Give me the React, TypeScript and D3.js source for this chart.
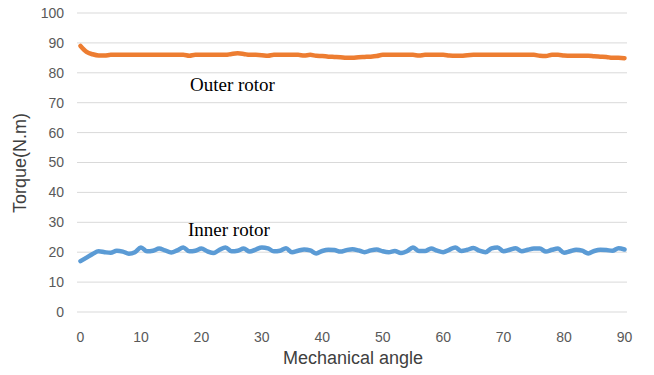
import React from "react";
import * as d3 from "d3";

const angles: number[] = Array.from({ length: 91 }, (_, i) => i);

const outerTorque: number[] = [
  89, 87, 86.2, 85.8, 85.8, 86, 86, 86, 86, 86,
  86, 86, 86, 86, 86, 86, 86, 86, 85.7, 86,
  86, 86, 86, 86, 86, 86.3, 86.5, 86.3, 86, 86,
  85.9, 85.7, 86, 86, 86, 86, 86, 85.8, 86, 85.7,
  85.6, 85.4, 85.3, 85.2, 85, 85, 85.2, 85.3, 85.4, 85.6,
  86, 86, 86, 86, 86, 86, 85.8, 86, 86, 86,
  86, 85.8, 85.7, 85.7, 85.9, 86, 86, 86, 86, 86,
  86, 86, 86, 86, 86, 86, 85.7, 85.6, 86, 86,
  85.8, 85.7, 85.7, 85.7, 85.7, 85.5, 85.4, 85.3, 85.0, 85.0,
  84.9,
];

const innerTorque: number[] = [
  17, 18.2, 19.4, 20.3, 20.0, 19.8, 20.5, 20.2, 19.5, 20.0,
  21.6, 20.3, 20.5, 21.2, 20.6, 19.9, 20.6, 21.6, 20.3, 20.5,
  21.2, 20.3, 19.7, 20.8, 21.6, 20.3, 20.5, 21.2, 20.2, 20.9,
  21.6, 21.3, 20.3, 20.5, 21.3, 20.0, 20.5, 20.9, 20.6, 19.6,
  20.4, 20.8, 20.7, 20.2, 20.7, 21.0, 20.6, 20.0, 20.6, 20.9,
  20.3, 20.0, 20.4, 19.7, 20.3, 21.6, 20.4, 20.4, 21.2, 20.5,
  20.0, 20.8, 21.6, 20.4, 20.8, 21.4, 20.5, 20.0, 21.3, 21.6,
  20.3, 20.8, 21.3, 20.3, 20.8, 21.2, 21.2, 20.2, 20.8, 21.2,
  19.8, 20.3, 20.8, 20.5, 19.6, 20.4, 20.8, 20.7, 20.5, 21.3,
  20.9,
];

const yTicks: number[] = [0, 10, 20, 30, 40, 50, 60, 70, 80, 90, 100];
const xTicks: number[] = [0, 10, 20, 30, 40, 50, 60, 70, 80, 90];

const seriesLabels = { outer: "Outer rotor", inner: "Inner rotor" };

export default function App() {
  const W = 654;
  const H = 375;
  const x = d3.scaleLinear().domain([0, 90]).range([80.5, 624.5]);
  const y = d3.scaleLinear().domain([0, 100]).range([312, 13]);
  const line = (vals: number[]) =>
    d3
      .line<number>()
      .x((_, i) => x(angles[i]))
      .y((v) => y(v))
      .curve(d3.curveMonotoneX)(vals) || "";
  const sans = "'Liberation Sans', Arial, sans-serif";
  const serif = "'Liberation Serif', 'Times New Roman', serif";
  return (
    <svg
      width={W}
      height={H}
      style={{ position: "absolute", left: 0, top: 0, background: "#fff" }}
    >
      {yTicks.map((t) => (
        <g key={t}>
          <line x1={77} x2={627} y1={y(t)} y2={y(t)} stroke="#d9d9d9" strokeWidth={1} />
          <text
            x={64}
            y={y(t)}
            dy="0.35em"
            textAnchor="end"
            fontFamily={sans}
            fontSize={14}
            fill="#595959"
          >
            {t}
          </text>
        </g>
      ))}
      {xTicks.map((t) => (
        <text
          key={t}
          x={x(t)}
          y={337}
          dy="0.35em"
          textAnchor="middle"
          fontFamily={sans}
          fontSize={14}
          fill="#595959"
        >
          {t}
        </text>
      ))}
      <path d={line(outerTorque)} fill="none" stroke="#ED7D31" strokeWidth={4.5} strokeLinejoin="round" strokeLinecap="round" />
      <path d={line(innerTorque)} fill="none" stroke="#5B9BD5" strokeWidth={4.5} strokeLinejoin="round" strokeLinecap="round" />
      <text x={190} y={91} fontFamily={serif} fontSize={19} fill="#000">
        {seriesLabels.outer}
      </text>
      <text x={188} y={236} fontFamily={serif} fontSize={19} fill="#000">
        {seriesLabels.inner}
      </text>
      <text
        x={353}
        y={358}
        dy="0.35em"
        textAnchor="middle"
        fontFamily={sans}
        fontSize={18}
        fill="#404040"
      >
        Mechanical angle
      </text>
      <text
        transform={`translate(20,${163}) rotate(-90)`}
        dy="0.35em"
        textAnchor="middle"
        fontFamily={sans}
        fontSize={18}
        fill="#404040"
      >
        Torque(N.m)
      </text>
    </svg>
  );
}
